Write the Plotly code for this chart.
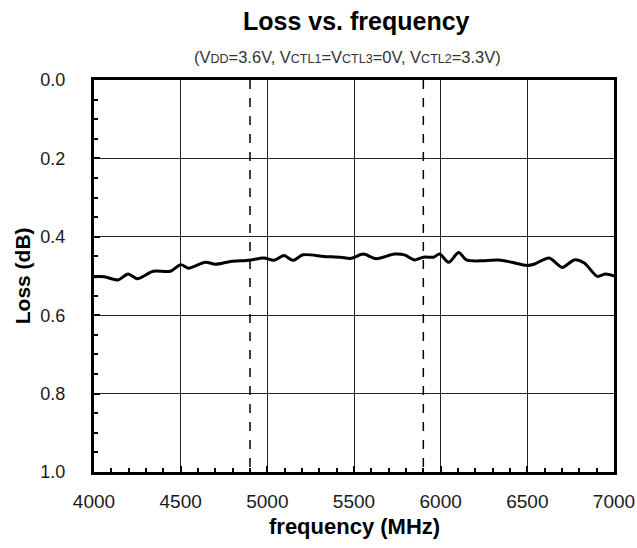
import plotly.graph_objects as go

freq = [4000, 4060, 4139, 4197, 4250, 4342, 4440, 4500, 4545, 4643, 4701, 4788, 4893, 4980,
        5039, 5096, 5148, 5206, 5327, 5420, 5484, 5553, 5629, 5733, 5791, 5849, 5901, 5959,
        5994, 6046, 6104, 6148, 6255, 6336, 6411, 6498, 6539, 6626, 6701, 6771, 6829, 6904,
        6951, 7000]
loss = [0.502, 0.502, 0.510, 0.495, 0.507, 0.488, 0.488, 0.471, 0.480, 0.465, 0.470, 0.463,
        0.460, 0.454, 0.460, 0.448, 0.460, 0.446, 0.450, 0.452, 0.455, 0.444, 0.456, 0.444,
        0.446, 0.459, 0.452, 0.452, 0.444, 0.465, 0.440, 0.459, 0.461, 0.459, 0.465, 0.473,
        0.470, 0.454, 0.478, 0.459, 0.467, 0.501, 0.495, 0.500]
band_edges = [4900, 5900]
x_ticks = [4000, 4500, 5000, 5500, 6000, 6500, 7000]
y_ticks = [0.0, 0.2, 0.4, 0.6, 0.8, 1.0]

FONT = "Liberation Sans, Arial, sans-serif"
TXT = "#1a1a1a"

fig = go.Figure()
fig.add_trace(go.Scatter(x=freq, y=loss, mode="lines",
                         line=dict(color="black", width=3, shape="spline", smoothing=0.8),
                         showlegend=False))

for f in band_edges:
    fig.add_shape(type="line", x0=f, x1=f, y0=0, y1=1, xref="x", yref="y",
                  line=dict(color="black", width=1.5, dash="dash"))

def sc(t):
    return "<span style='font-size:12.5px'>" + t + "</span>"

sub = ("(V" + sc("DD") + "=3.6V, V" + sc("CTL1") + "=V" + sc("CTL3") + "=0V, V" + sc("CTL2") + "=3.3V)")

fig.update_layout(
    width=637, height=548,
    margin=dict(l=94, r=23, t=80, b=76),
    paper_bgcolor="white", plot_bgcolor="white",
    font=dict(family=FONT, color=TXT),
    showlegend=False,
)

fig.add_annotation(text="<b>Loss vs. frequency</b>", xref="paper", yref="paper",
                   x=0.504, y=1.1505, xanchor="center", yanchor="middle", showarrow=False,
                   font=dict(size=25, color="black", family=FONT))
fig.add_annotation(text=sub, xref="paper", yref="paper",
                   x=0.488, y=1.0587, xanchor="center", yanchor="middle", showarrow=False,
                   font=dict(size=16.5, color="#333", family=FONT))
fig.add_annotation(text="<b>frequency (MHz)</b>", xref="paper", yref="paper",
                   x=0.5, y=-0.140, xanchor="center", yanchor="middle", showarrow=False,
                   font=dict(size=22, color="black", family=FONT))
fig.add_annotation(text="<b>Loss (dB)</b>", xref="paper", yref="paper",
                   x=-0.138, y=0.5, xanchor="center", yanchor="middle", showarrow=False,
                   textangle=-90, font=dict(size=21, color="black", family=FONT))

fig.update_xaxes(range=[4000, 7000], tickvals=x_ticks, ticktext=[str(v) for v in x_ticks],
                 automargin=False,
                 showline=True, mirror=True, linewidth=3, linecolor="black",
                 showgrid=True, gridcolor="#222", gridwidth=1, zeroline=False,
                 ticks="inside", ticklen=6, tickcolor="black", tickwidth=2,
                 minor=dict(dtick=100, ticks="inside", ticklen=4, tickcolor="black", tickwidth=2, showgrid=False),
                 tickfont=dict(size=19, color=TXT, family=FONT),
                 ticklabelstandoff=10)

fig.update_yaxes(range=[1, 0], tickvals=y_ticks, ticktext=[f"{v:.1f}" for v in y_ticks],
                 automargin=False,
                 showline=True, mirror=True, linewidth=3, linecolor="black",
                 showgrid=True, gridcolor="#222", gridwidth=1, zeroline=False,
                 ticks="inside", ticklen=6, tickcolor="black", tickwidth=2,
                 minor=dict(dtick=0.05, tick0=0, ticks="inside", ticklen=4, tickcolor="black", tickwidth=2, showgrid=False),
                 tickfont=dict(size=18, color=TXT, family=FONT),
                 ticklabelstandoff=22)

fig.write_html("out.html", config={"displayModeBar": False},
               post_script="document.body.style.margin='0';document.body.style.overflow='hidden';")
